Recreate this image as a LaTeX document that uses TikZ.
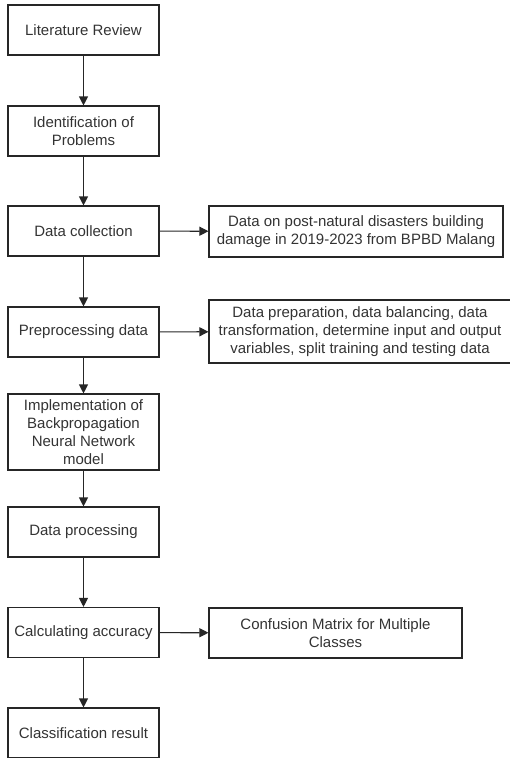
\documentclass[tikz,border=0pt]{standalone}
\usepackage{fontspec}
\setmainfont{Liberation Sans}
\usetikzlibrary{arrows.meta}

\begin{document}
\begin{tikzpicture}[x=1pt, y=-1pt, >={Triangle[length=9pt,width=9pt]},
    stepbox/.style={draw=black!85, line width=1.1pt, align=center, text=black!80,
        font=\fontsize{15}{18}\selectfont, inner sep=0pt},
    flow/.style={->, draw=black!85, line width=1.1pt}]
        \useasboundingbox (0,0) rectangle (509,758);

        \node[stepbox, minimum width=151pt, minimum height=50pt] (lit) at (83.5, 30) {Literature Review};
        \node[stepbox, minimum width=151pt, minimum height=50pt] (ident) at (83.5, 131) {Identification of\\Problems};
        \node[stepbox, minimum width=151pt, minimum height=50pt] (coll) at (83.5, 231) {Data collection};
        \node[stepbox, minimum width=151pt, minimum height=50pt] (prep) at (83.5, 332) {Preprocessing data};
        \node[stepbox, minimum width=151pt, minimum height=76pt] (impl) at (83.5, 432) {Implementation of\\Backpropagation\\Neural Network\\model};
        \node[stepbox, minimum width=151pt, minimum height=50pt] (proc) at (83.5, 532) {Data processing};
        \node[stepbox, minimum width=151pt, minimum height=50pt] (acc) at (83.5, 632.5) {Calculating accuracy};
        \node[stepbox, minimum width=151pt, minimum height=50pt] (res) at (83.5, 733) {Classification result};

        \node[stepbox, minimum width=294pt, minimum height=51pt] (src) at (356, 231.5) {Data on post-natural disasters building\\damage in 2019-2023 from BPBD Malang};
        \node[stepbox, minimum width=302pt, minimum height=63pt] (prepd) at (360, 331.5) {Data preparation, data balancing, data\\transformation, determine input and output\\variables, split training and testing data};
        \node[stepbox, minimum width=253pt, minimum height=50pt] (conf) at (335.5, 633) {Confusion Matrix for Multiple\\Classes};

        \draw[flow] (lit) -- (ident);
        \draw[flow] (ident) -- (coll);
        \draw[flow] (coll) -- (prep);
        \draw[flow] (prep) -- (impl);
        \draw[flow] (impl) -- (proc);
        \draw[flow] (proc) -- (acc);
        \draw[flow] (acc) -- (res);
        \draw[flow] (coll) -- (src);
        \draw[flow] (prep) -- (prepd);
        \draw[flow] (acc) -- (conf);
    \end{tikzpicture}
\end{document}
